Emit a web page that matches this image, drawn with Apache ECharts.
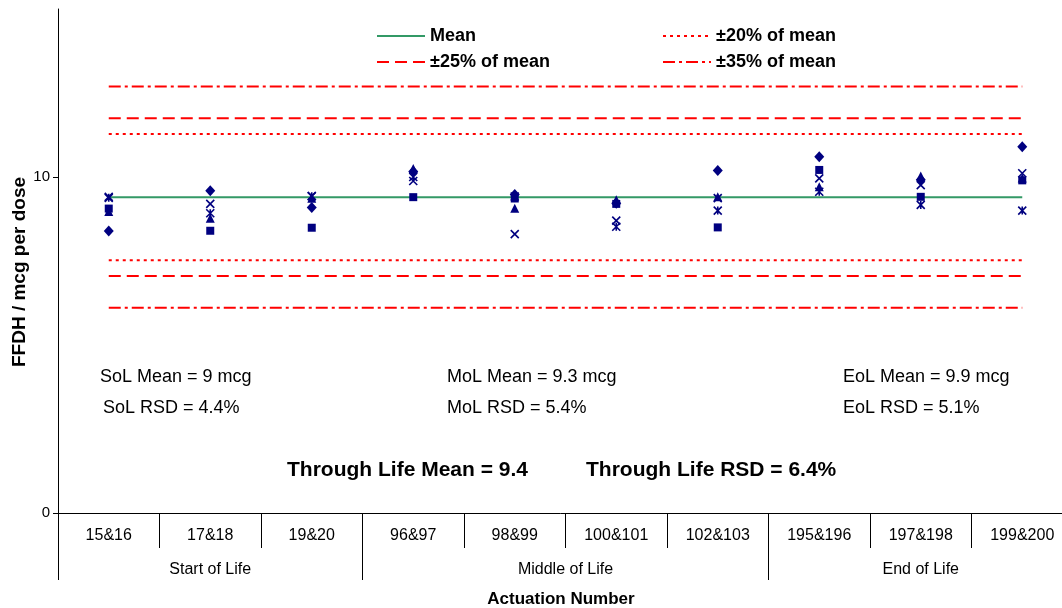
<!DOCTYPE html>
<html>
<head>
<meta charset="utf-8">
<script src="https://cdn.jsdelivr.net/npm/echarts@6/dist/echarts.min.js"></script>
<style>html,body{margin:0;padding:0;background:#fff;}#c{width:1062px;height:608px;}</style>
</head>
<body>
<div id="c"></div>
<script>
const categories = ['15&16','17&18','19&20','96&97','98&99','100&101','102&103','195&196','197&198','199&200'];
const groupLabels = ['Start of Life','Middle of Life','End of Life'];
const groupBounds = [0, 3, 7, 10];
const groupCenters = [1.5, 5, 8.5];
const yTicks = [0, 10];

const diamondVals  = [8.39, 9.59, 9.09, 10.16, 9.48, 9.22, 10.19, 10.60, 9.92, 10.90];
const squareVals   = [9.06, 8.40, 8.49, 9.40, 9.36, 9.20, 8.50, 10.21, 9.41, 9.90];
const triangleVals = [8.97, 8.77, 9.37, 10.25, 9.07, 9.32, 9.41, 9.71, 10.03, 9.97];
const crossVals    = [9.41, 9.20, 9.43, 9.88, 8.30, 8.70, 9.37, 9.96, 9.76, 10.11];
const starVals     = [9.38, 8.92, 9.43, 10.00, 9.42, 8.52, 9.00, 9.56, 9.17, 9.00];

const meanLevel = 9.4;
const pm20Levels = [11.28, 7.52];
const pm25Levels = [11.75, 7.05];
const pm35Levels = [12.69, 6.11];

const annotations = [
  ['SoL Mean = 9 mcg', 'SoL RSD = 4.4%'],
  ['MoL Mean = 9.3 mcg', 'MoL RSD = 5.4%'],
  ['EoL Mean = 9.9 mcg', 'EoL RSD = 5.1%']
];
const throughLife = ['Through Life Mean = 9.4', 'Through Life RSD = 6.4%'];

const FONT = '"Liberation Sans", Arial, sans-serif';
const NAVY = '#000080';
const RED = '#ff0000';
const GREEN = '#339966';
const NOSYM = 'path://M0,0L1,1';

const chart = echarts.init(document.getElementById('c'), null, {renderer: 'canvas'});

function flat(v) { return categories.map(() => v); }

function refLine(name, v, color, type) {
  return {name: name, type: 'line', data: flat(v), symbol: NOSYM, showSymbol: false, silent: true,
    lineStyle: {color: color, width: 2, type: type}, itemStyle: {color: color, borderWidth: 0}, z: 1};
}

const lineSeries = [refLine('Mean', meanLevel, GREEN, 'solid')];
pm20Levels.forEach(v => lineSeries.push(refLine('±20% of mean', v, RED, [3, 4])));
pm25Levels.forEach(v => lineSeries.push(refLine('±25% of mean', v, RED, [12, 6])));
pm35Levels.forEach(v => lineSeries.push(refLine('±35% of mean', v, RED, [12, 4, 3, 4])));

function scatter(name, vals, symbol, size, stroke) {
  return {
    name: name, type: 'scatter', data: vals, symbol: symbol, symbolSize: size, z: 5,
    itemStyle: stroke ? {color: NAVY, borderColor: NAVY, borderWidth: 1.6, opacity: 1}
                      : {color: NAVY, opacity: 1}
  };
}

const scatterSeries = [
  scatter('Diamond', diamondVals, 'diamond', [10, 11], false),
  scatter('Square', squareVals, 'rect', 8, false),
  scatter('Triangle', triangleVals, 'triangle', [9, 9], false),
  scatter('Cross', crossVals, 'path://M0,0L8,8M8,0L0,8', 8, true),
  scatter('Star', starVals, 'path://M0,0L8,8M8,0L0,8M4,0L4,8', 8, true)
];

const graphics = [];
const annX = [100, 447, 843];
annotations.forEach((pair, i) => {
  graphics.push({type: 'text', x: annX[i], y: 377, style: {text: pair[0], fill: '#000', font: '18px ' + FONT, verticalAlign: 'middle'}});
  graphics.push({type: 'text', x: annX[i] + (i === 0 ? 3 : 0), y: 408, style: {text: pair[1], fill: '#000', font: '18px ' + FONT, verticalAlign: 'middle'}});
});
graphics.push({type: 'text', x: 287, y: 470, style: {text: throughLife[0], fill: '#000', font: 'bold 21px ' + FONT, verticalAlign: 'middle'}});
graphics.push({type: 'text', x: 586, y: 470, style: {text: throughLife[1], fill: '#000', font: 'bold 21px ' + FONT, verticalAlign: 'middle'}});
graphics.push({type: 'text', x: 561, y: 599, style: {text: 'Actuation Number', fill: '#000', font: 'bold 17px ' + FONT, align: 'center', verticalAlign: 'middle'}});
graphics.push({type: 'text', x: 20, y: 272, rotation: Math.PI / 2,
  style: {text: 'FFDH / mcg per dose', fill: '#000', font: 'bold 19px ' + FONT, align: 'center', verticalAlign: 'middle'}});

const legendText = {fontWeight: 'bold', fontSize: 18, color: '#000', fontFamily: FONT};

chart.setOption({
  animation: false,
  backgroundColor: '#fff',
  grid: {left: 58, top: 9, width: 1015, height: 504, containLabel: false, outerBoundsMode: 'none'},
  legend: [
    {left: 376, top: 27, padding: 0, orient: 'vertical', itemGap: 8, itemWidth: 48, itemHeight: 12, selectedMode: false,
     data: ['Mean', '±25% of mean'], textStyle: legendText},
    {left: 662, top: 27, padding: 0, orient: 'vertical', itemGap: 8, itemWidth: 48, itemHeight: 12, selectedMode: false,
     data: ['±20% of mean', '±35% of mean'], textStyle: legendText}
  ],
  xAxis: [
    {type: 'category', data: categories, position: 'bottom',
     axisLine: {show: true, lineStyle: {color: '#000', width: 1}},
     axisTick: {show: true, interval: 0, length: 35, lineStyle: {color: '#000'}},
     axisLabel: {interval: 0, margin: 15, fontSize: 16, color: '#000', fontFamily: FONT},
     splitLine: {show: false}},
    {type: 'value', min: 0, max: 10, position: 'bottom', offset: 35,
     axisLine: {show: false},
     axisTick: {show: true, customValues: groupBounds, length: 32, lineStyle: {color: '#000'}},
     axisLabel: {show: true, customValues: groupCenters, margin: 14, fontSize: 16, color: '#000', fontFamily: FONT,
       formatter: function (v) { const i = groupCenters.indexOf(v); return i >= 0 ? groupLabels[i] : ''; }},
     splitLine: {show: false}}
  ],
  yAxis: {type: 'value', min: 0, max: 15,
    axisLine: {show: true, lineStyle: {color: '#000', width: 1}},
    axisTick: {show: true, customValues: yTicks, length: 5, lineStyle: {color: '#000'}},
    axisLabel: {customValues: yTicks, margin: 8, fontSize: 15, color: '#000', fontFamily: FONT},
    splitLine: {show: false}},
  series: lineSeries.concat(scatterSeries),
  graphic: graphics
});
</script>
</body>
</html>
